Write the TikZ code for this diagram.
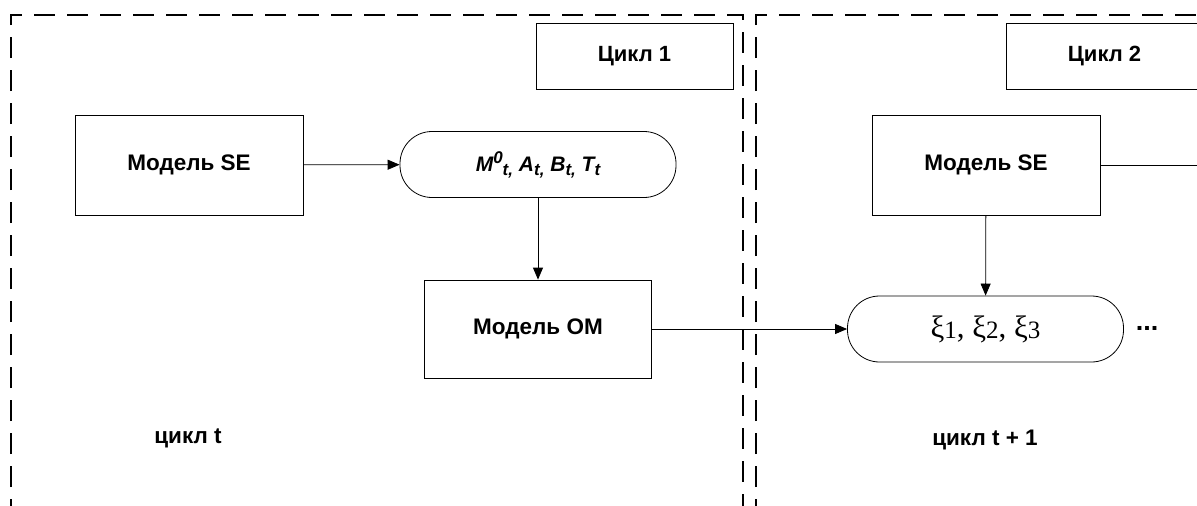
\documentclass[tikz,border=0pt]{standalone}
\usepackage{fontspec}
\setmainfont{Liberation Sans}
\newfontfamily\xifont{Liberation Serif}
\usetikzlibrary{positioning,arrows.meta}

\tikzset{
  region/.style={line width=2.8pt, dash pattern=on 21pt off 12pt},
  modelbox/.style={draw, line width=0.8pt, minimum width=228, minimum height=100,
    font=\bfseries\fontsize{22.5}{27}\selectfont},
  cyclebox/.style={draw, line width=0.8pt, minimum width=197, minimum height=66,
    font=\bfseries\fontsize{22}{26}\selectfont},
  databox/.style={draw, line width=0.8pt, rounded corners=32pt, minimum width=276, minimum height=66},
  flow/.style={line width=0.8pt, -{Triangle[length=12pt,width=10pt]}},
  cyclelabel/.style={font=\bfseries\fontsize{22.5}{27}\selectfont}
}
\newcommand{\lowidx}[1]{\raisebox{-4pt}{\fontsize{17}{20}\selectfont #1}}

\begin{document}
\begin{tikzpicture}[x=1pt,y=-1pt]
      \useasboundingbox (0,0) rectangle (1197,506);
      \clip (0,0) rectangle (1197,506);

      % Dashed regions of the two cycles
      \draw[region] (11,520) -- (11,15) -- (743,15) -- (743,520);
      \draw[region] (756,520) -- (756,15) -- (1230,15);

      % Cycle 1
      \node[cyclebox] (cyc1) at (634.5,56) {Цикл 1};
      \node[modelbox] (se1) at (189,165) {Модель SE};
      \node[databox, font=\bfseries\itshape\fontsize{21}{25}\selectfont] (par) at (538,164.5)
        {M\raisebox{8pt}{\fontsize{17}{20}\selectfont 0}\lowidx{t,} A\lowidx{t,} B\lowidx{t,} T\lowidx{t}};
      \node[modelbox, minimum width=227, minimum height=98] (om) at (538,329) {Модель ОМ};
      \node[cyclelabel] (lab1) at (188,438) {цикл t};

      % Cycle 2
      \node[cyclebox] (cyc2) at (1104.5,56) {Цикл 2};
      \node[modelbox] (se2) at (986,165) {Модель SE};
      \node[databox, font=\xifont\fontsize{31}{36}\selectfont] (xi) at (985.5,329)
        {ξ\raisebox{-1pt}{\fontsize{25}{30}\selectfont 1}, ξ\raisebox{-1pt}{\fontsize{25}{30}\selectfont 2}, ξ\raisebox{-1pt}{\fontsize{25}{30}\selectfont 3}};
      \node[font=\bfseries\fontsize{27}{32}\selectfont] (dots) at (1147,328) {...};
      \node[cyclelabel] (lab2) at (985,440) {цикл t + 1};
      \coordinate (out2) at (1200,165);

      % Connectors
      \draw[flow] (se1) -- (par);
      \draw[flow] (par) -- (om);
      \draw[flow] (om) -- (xi);
      \draw[flow] (se2) -- (xi);
      \draw[line width=0.8pt] (se2.east) -- (out2);
    \end{tikzpicture}
\end{document}
